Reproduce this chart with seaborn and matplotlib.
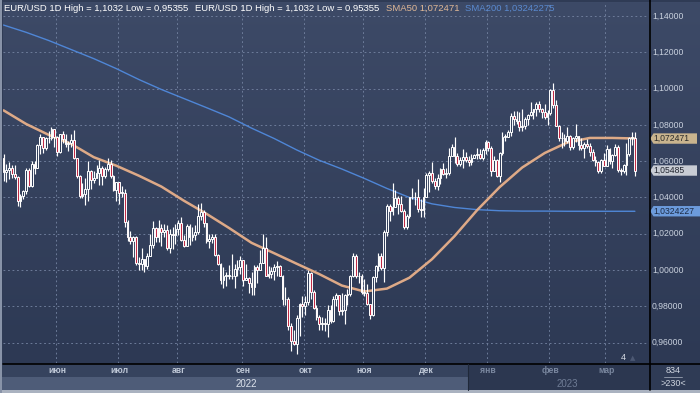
import numpy as np
import pandas as pd
import matplotlib
matplotlib.use("Agg")
import matplotlib.pyplot as plt
from matplotlib.colors import LinearSegmentedColormap
from matplotlib.patches import Rectangle, Polygon
from matplotlib.lines import Line2D
import seaborn as sns

# EUR/USD daily candles, 5 May 2022 .. 15 Mar 2023 (open = previous close)
first_open = 1.0620
closes = [
    # May
    1.0540, 1.0550, 1.0560, 1.0530, 1.0515, 1.0380, 1.0410, 1.0435, 1.0550, 1.0465,
    1.0585, 1.0565, 1.0690, 1.0735, 1.0675, 1.0725, 1.0730, 1.0780, 1.0735,
    # Jun
    1.0650, 1.0750, 1.0720, 1.0695, 1.0700, 1.0715, 1.0615, 1.0520, 1.0410, 1.0420,
    1.0445, 1.0545, 1.0495, 1.0510, 1.0535, 1.0565, 1.0520, 1.0555, 1.0585, 1.0520,
    1.0440, 1.0485,
    # Jul
    1.0425, 1.0425, 1.0265, 1.0180, 1.0160, 1.0185, 1.0040, 1.0035, 1.0060, 1.0020,
    1.0080, 1.0140, 1.0230, 1.0180, 1.0230, 1.0210, 1.0220, 1.0120, 1.0200, 1.0195,
    1.0225,
    # Aug
    1.0260, 1.0165, 1.0135, 1.0245, 1.0180, 1.0195, 1.0210, 1.0300, 1.0320, 1.0260,
    1.0160, 1.0170, 1.0180, 1.0085, 1.0035, 0.9945, 0.9970, 0.9970, 0.9970, 0.9965,
    1.0005, 1.0015, 1.0055,
    # Sep
    0.9945, 0.9955, 0.9930, 0.9905, 1.0015, 1.0000, 1.0040, 1.0120, 0.9970, 0.9980,
    0.9995, 1.0015, 1.0025, 0.9970, 0.9840, 0.9840, 0.9690, 0.9610, 0.9595, 0.9735,
    0.9815, 0.9800,
    # Oct
    0.9825, 0.9985, 0.9880, 0.9790, 0.9740, 0.9705, 0.9710, 0.9705, 0.9780, 0.9720,
    0.9840, 0.9860, 0.9775, 0.9780, 0.9860, 0.9870, 0.9965, 1.0080, 0.9965, 0.9965,
    0.9880,
    # Nov
    0.9875, 0.9815, 0.9750, 0.9960, 1.0020, 1.0075, 1.0010, 1.0210, 1.0355, 1.0325,
    1.0350, 1.0395, 1.0365, 1.0325, 1.0240, 1.0300, 1.0400, 1.0405, 1.0400, 1.0335,
    1.0330, 1.0405,
    # Dec
    1.0525, 1.0535, 1.0490, 1.0465, 1.0505, 1.0555, 1.0530, 1.0535, 1.0630, 1.0680,
    1.0630, 1.0585, 1.0605, 1.0625, 1.0605, 1.0595, 1.0615, 1.0635, 1.0640, 1.0615,
    1.0660, 1.0705,
    # Jan
    1.0670, 1.0545, 1.0605, 1.0520, 1.0645, 1.0735, 1.0735, 1.0760, 1.0850, 1.0830,
    1.0820, 1.0790, 1.0795, 1.0830, 1.0855, 1.0870, 1.0885, 1.0915, 1.0890, 1.0870,
    1.0845, 1.0865,
    # Feb
    1.0990, 1.0910, 1.0795, 1.0725, 1.0725, 1.0710, 1.0740, 1.0680, 1.0725, 1.0740,
    1.0690, 1.0675, 1.0695, 1.0685, 1.0650, 1.0605, 1.0595, 1.0545, 1.0605, 1.0575,
    # Mar
    1.0665, 1.0600, 1.0635, 1.0680, 1.0550, 1.0545, 1.0580, 1.0640, 1.0730, 1.0730,
    1.05485,
]
highs = [
    1.0641, 1.0584, 1.0597, 1.0577, 1.0580, 1.0520, 1.0420, 1.0440, 1.0560, 1.0565,
    1.0600, 1.0600, 1.0697, 1.0749, 1.0735, 1.0735, 1.0765, 1.0787, 1.0780,
    1.0737, 1.0752, 1.0764, 1.0748, 1.0710, 1.0748, 1.0774, 1.0620, 1.0525, 1.0480,
    1.0505, 1.0601, 1.0550, 1.0545, 1.0580, 1.0605, 1.0575, 1.0570, 1.0615, 1.0605,
    1.0525, 1.0485,
    1.0487, 1.0463, 1.0445, 1.0275, 1.0215, 1.0190, 1.0190, 1.0070, 1.0120, 1.0060,
    1.0095, 1.0200, 1.0270, 1.0235, 1.0278, 1.0255, 1.0255, 1.0250, 1.0225, 1.0235,
    1.0255,
    1.0275, 1.0295, 1.0195, 1.0255, 1.0255, 1.0235, 1.0250, 1.0365, 1.0368, 1.0330,
    1.0260, 1.0200, 1.0200, 1.0200, 1.0090, 1.0040, 1.0015, 0.9990, 1.0030, 1.0090,
    1.0035, 1.0055, 1.0080,
    1.0055, 1.0035, 0.9960, 0.9990, 1.0030, 1.0030, 1.0110, 1.0200, 1.0185, 1.0020,
    1.0015, 1.0035, 1.0050, 1.0030, 0.9975, 0.9905, 0.9850, 0.9710, 0.9670, 0.9750,
    0.9820, 0.9855,
    0.9855, 0.9999, 0.9990, 0.9890, 0.9810, 0.9750, 0.9740, 0.9735, 0.9805, 0.9810,
    0.9855, 0.9875, 0.9865, 0.9875, 0.9870, 0.9895, 0.9975, 1.0095, 1.0090, 0.9990,
    0.9980,
    0.9950, 0.9925, 0.9815, 0.9965, 1.0030, 1.0095, 1.0095, 1.0220, 1.0365, 1.0365,
    1.0480, 1.0440, 1.0410, 1.0410, 1.0335, 1.0310, 1.0405, 1.0450, 1.0430, 1.0500,
    1.0390, 1.0450,
    1.0535, 1.0545, 1.0595, 1.0510, 1.0530, 1.0560, 1.0590, 1.0560, 1.0675, 1.0695,
    1.0735, 1.0645, 1.0625, 1.0665, 1.0650, 1.0630, 1.0640, 1.0640, 1.0670, 1.0665,
    1.0670, 1.0715,
    1.0710, 1.0685, 1.0630, 1.0610, 1.0650, 1.0760, 1.0750, 1.0770, 1.0865, 1.0875,
    1.0875, 1.0870, 1.0890, 1.0845, 1.0860, 1.0925, 1.0890, 1.0925, 1.0930, 1.0895,
    1.0915, 1.0880,
    1.1000, 1.1032, 1.0935, 1.0800, 1.0760, 1.0750, 1.0790, 1.0745, 1.0735, 1.0805,
    1.0740, 1.0725, 1.0705, 1.0720, 1.0700, 1.0665, 1.0630, 1.0600, 1.0610, 1.0645,
    1.0690, 1.0670, 1.0640, 1.0695, 1.0690, 1.0565, 1.0585, 1.0700, 1.0735, 1.0760,
    1.0760,
]
lows = [
    1.0493, 1.0483, 1.0500, 1.0508, 1.0500, 1.0354, 1.0350, 1.0390, 1.0420, 1.0460,
    1.0460, 1.0530, 1.0560, 1.0640, 1.0645, 1.0660, 1.0700, 1.0715, 1.0680,
    1.0627, 1.0647, 1.0700, 1.0680, 1.0655, 1.0680, 1.0610, 1.0510, 1.0397, 1.0397,
    1.0359, 1.0380, 1.0444, 1.0480, 1.0505, 1.0470, 1.0470, 1.0510, 1.0545, 1.0505,
    1.0437, 1.0383,
    1.0365, 1.0405, 1.0235, 1.0161, 1.0145, 1.0070, 1.0030, 0.9999, 0.9998, 0.9990,
    1.0005, 1.0080, 1.0120, 1.0155, 1.0155, 1.0130, 1.0180, 1.0110, 1.0095, 1.0115,
    1.0145,
    1.0195, 1.0160, 1.0125, 1.0130, 1.0140, 1.0160, 1.0165, 1.0200, 1.0275, 1.0235,
    1.0150, 1.0120, 1.0150, 1.0075, 1.0030, 0.9925, 0.9900, 0.9910, 0.9950, 0.9950,
    0.9900, 0.9965, 0.9980,
    0.9910, 0.9945, 0.9875, 0.9865, 0.9865, 0.9930, 1.0000, 1.0040, 0.9965, 0.9955,
    0.9955, 0.9945, 0.9970, 0.9965, 0.9810, 0.9805, 0.9670, 0.9555, 0.9590, 0.95355,
    0.9635, 0.9740,
    0.9752, 0.9810, 0.9840, 0.9785, 0.9725, 0.9670, 0.9670, 0.9665, 0.9630, 0.9710,
    0.9715, 0.9800, 0.9755, 0.9755, 0.9705, 0.9810, 0.9855, 0.9960, 0.9955, 0.9930,
    0.9870,
    0.9855, 0.9810, 0.9730, 0.9745, 0.9935, 0.9995, 1.0000, 0.9935, 1.0190, 1.0270,
    1.0305, 1.0350, 1.0310, 1.0320, 1.0225, 1.0225, 1.0285, 1.0390, 1.0360, 1.0320,
    1.0290, 1.0290,
    1.0400, 1.0430, 1.0480, 1.0445, 1.0440, 1.0475, 1.0525, 1.0510, 1.0525, 1.0630,
    1.0590, 1.0575, 1.0575, 1.0565, 1.0595, 1.0575, 1.0580, 1.0615, 1.0610, 1.0610,
    1.0605, 1.0640,
    1.0655, 1.0520, 1.0545, 1.0515, 1.0485, 1.0635, 1.0710, 1.0735, 1.0740, 1.0800,
    1.0805, 1.0765, 1.0765, 1.0780, 1.0800, 1.0850, 1.0835, 1.0850, 1.0870, 1.0840,
    1.0835, 1.0800,
    1.0855, 1.0895, 1.0795, 1.0710, 1.0670, 1.0685, 1.0700, 1.0660, 1.0665, 1.0705,
    1.0660, 1.0660, 1.0615, 1.0670, 1.0630, 1.0600, 1.0575, 1.0535, 1.0535, 1.0575,
    1.0575, 1.0585, 1.0565, 1.0630, 1.0540, 1.0525, 1.0535, 1.0525, 1.0630, 1.0690,
    1.0516,
]

# moving averages, one value every 8 sessions
sma_step = 8
sma50 = [1.0880, 1.0805, 1.0745, 1.0695, 1.0622, 1.0575, 1.0520, 1.0460, 1.0382, 1.0310,
         1.0232, 1.0150, 1.0093, 1.0035, 0.9978, 0.9915, 0.9882, 0.9898, 0.9958, 1.0060,
         1.0187, 1.0330, 1.0457, 1.0565, 1.0645, 1.0703, 1.0728, 1.0728, 1.0725]
sma200 = [1.1350, 1.1310, 1.1265, 1.1215, 1.1165, 1.1110, 1.1050, 1.0995, 1.0945, 1.0895,
          1.0844, 1.0782, 1.0725, 1.0662, 1.0605, 1.0557, 1.0505, 1.0450, 1.0400, 1.0365,
          1.0345, 1.0333, 1.0327, 1.0325, 1.0325, 1.0324, 1.0324, 1.0324, 1.0324]

sma50_last = 1.072471
sma200_last = 1.03242275
last_price = 1.05485
high_all = 1.1032
low_all = 0.95355

month_labels = ["июн", "июл", "авг", "сен", "окт", "ноя", "дек", "янв", "фев", "мар"]
y_ticks = [0.96, 0.98, 1.00, 1.02, 1.04, 1.06, 1.08, 1.10, 1.12, 1.14]

dates = pd.bdate_range("2022-05-05", "2023-03-15")

sns.set_style("dark")
plt.rcParams["font.family"] = ["Liberation Sans", "DejaVu Sans"]

W, H = 700, 393
BG_TOP, BG_BOT = "#3d4a67", "#2d3954"


def box(x0, y0, x1, y1):
    # pixel box -> figure fraction rect
    return [x0 / W, 1 - y1 / H, (x1 - x0) / W, (y1 - y0) / H]


def comma(v, nd=5):
    return f"{v:.{nd}f}".replace(".", ",")


fig = plt.figure(figsize=(7, 3.93), dpi=100)
fig.patch.set_facecolor("#2f3b55")

ax = fig.add_axes(box(3, 2, 649, 363))
rax = fig.add_axes(box(649, 2, 700, 363))

grad = LinearSegmentedColormap.from_list("bg", [BG_BOT, BG_TOP])
for a in (ax, rax):
    a.imshow(np.linspace(0, 1, 256).reshape(-1, 1)[::-1], cmap=grad, aspect="auto",
             extent=[0, 1, 0, 1], transform=a.transAxes, zorder=0)
    for s in a.spines.values():
        s.set_visible(False)

ylo, yhi = 0.94881, 1.1477
ax.set_xlim(-0.2, 229.0)
ax.set_ylim(ylo, yhi)

# month boundaries
month_pos = np.array([i for i in range(1, len(dates)) if dates[i].month != dates[i - 1].month])
ax.set_xticks(month_pos - 0.5)
ax.set_yticks(y_ticks)
ax.tick_params(length=0, labelbottom=False, labelleft=False)
ax.grid(True, color="#71809e", linestyle=(0, (2, 3)), linewidth=0.65)
ax.set_axisbelow(True)

# candles
x = np.arange(len(closes))
c = np.array(closes)
o = np.array([first_open] + closes[:-1])
hi = np.array(highs)
lo = np.array(lows)
up = c >= o
ax.vlines(x, lo, hi, color="white", linewidth=0.85, zorder=4)
ax.bar(x[up], np.maximum((c - o)[up], 0.0003), bottom=o[up], width=0.64,
       color="#33405c", edgecolor="white", linewidth=0.7, zorder=5)
ax.bar(x[~up], (o - c)[~up], bottom=c[~up], width=0.64,
       color="#c02a45", edgecolor="white", linewidth=0.7, zorder=5)

# moving averages
sma_x = np.arange(0, len(closes), sma_step)
sns.lineplot(x=sma_x, y=sma200, ax=ax, color="#4f86d6", linewidth=1.0, zorder=3)
sns.lineplot(x=sma_x, y=sma50, ax=ax, color="#e8b08a", linewidth=1.8, alpha=0.95, zorder=3.5)
ax.set_xlabel("")
ax.set_ylabel("")

# price scale on the right
rax.set_xlim(0, 51)
rax.set_ylim(ylo, yhi)
rax.set_xticks([])
rax.set_yticks([])
for v in y_ticks:
    rax.text(3, v, comma(v), color="#c9d1de", fontsize=6.2, va="center", ha="left", zorder=2)

hh = 5.2 * (yhi - ylo) / 361
badges = [(sma50_last, "#c9b48e", "#2a2a2a", comma(sma50_last, 6), 48),
          (last_price, "#c8ccd4", "#222630", comma(last_price, 5), 48),
          (sma200_last, "#6c9bdc", "#1c2a44", comma(sma200_last, 8)[:-1], 53)]
for val, fc, tc, txt, xr in badges:
    rax.add_patch(Polygon([(1.2, val), (4.5, val + hh), (xr, val + hh), (xr, val - hh), (4.5, val - hh)],
                          closed=True, facecolor=fc, edgecolor="none", zorder=3, clip_on=True))
    rax.text(4.8, val, txt, color=tc, fontsize=6.2, va="center", ha="left", zorder=4, clip_on=True)

# header
head = f"EUR/USD 1D High = {comma(high_all, 4)} Low = {comma(low_all, 5)}"
fig.text(4 / W, 1 - 8.5 / H, head, color="white", fontsize=6.8, va="center")
fig.text(195 / W, 1 - 8.5 / H, head, color="white", fontsize=6.8, va="center")
fig.text(386 / W, 1 - 8.5 / H, f"SMA50 {comma(sma50_last, 6)}", color="#e0b896", fontsize=6.8, va="center")
fig.text(465 / W, 1 - 8.5 / H, f"SMA200 {comma(sma200_last, 8)}", color="#5a8ad0", fontsize=6.8, va="center")


# bottom time bands (behind the axes so the month labels stay visible)
def frect(x0, y0, x1, y1, col):
    fig.add_artist(Rectangle((x0 / W, 1 - y1 / H), (x1 - x0) / W, (y1 - y0) / H,
                             transform=fig.transFigure, facecolor=col, edgecolor="none", zorder=-1))


frect(0, 364, 468, 377, "#36435e")
frect(0, 377, 468, 390, "#4e5c78")
frect(468, 364, 649, 390, "#2c3750")
frect(649, 364, 700, 390, "#2f3b55")
frect(0, 390, 700, 393, "#aab2c0")
frect(0, 0, 1.5, 393, "#8893a8")

fig.add_artist(Line2D([3 / W, 1], [1 - 363.5 / H] * 2, transform=fig.transFigure, color="black", lw=1.2))
fig.add_artist(Line2D([649.5 / W] * 2, [1 - 390 / H, 1], transform=fig.transFigure, color="black", lw=1.2))
fig.add_artist(Line2D([468 / W] * 2, [1 - 390 / H, 1 - 364 / H], transform=fig.transFigure, color="#1f2839", lw=0.8))

# month labels under the plot
xt = ax.get_xaxis_transform()
for i, (pos, lab) in enumerate(zip(month_pos, month_labels)):
    col = "#c0c9d8" if i < 7 else "#7a879f"
    ax.text(pos, -0.021, lab, transform=xt, ha="center", va="center",
            fontsize=6.2, fontweight="bold", color=col, clip_on=False)

fig.text(246 / W, 1 - 384 / H, "2022", color="#dde3ec", fontsize=7, ha="center", va="center")
fig.text(567 / W, 1 - 384 / H, "2023", color="#6f7c95", fontsize=7, ha="center", va="center")
fig.text(673 / W, 1 - 370.5 / H, "834", color="#d0d6e0", fontsize=6.5, ha="center", va="center")
fig.add_artist(Line2D([664 / W, 682 / W], [1 - 377 / H] * 2, transform=fig.transFigure, color="#9aa3b3", lw=0.6))
fig.text(673 / W, 1 - 384 / H, ">230<", color="#d0d6e0", fontsize=6.5, ha="center", va="center")
fig.text(623 / W, 1 - 357.5 / H, "4", color="#d8dde6", fontsize=6.5, ha="center", va="center")
fig.text(633 / W, 1 - 358.5 / H, "▲", color="#4c5873", fontsize=5, ha="center", va="center",
         family=["DejaVu Sans"])

fig.savefig("out.png", dpi=100, facecolor=fig.get_facecolor())
